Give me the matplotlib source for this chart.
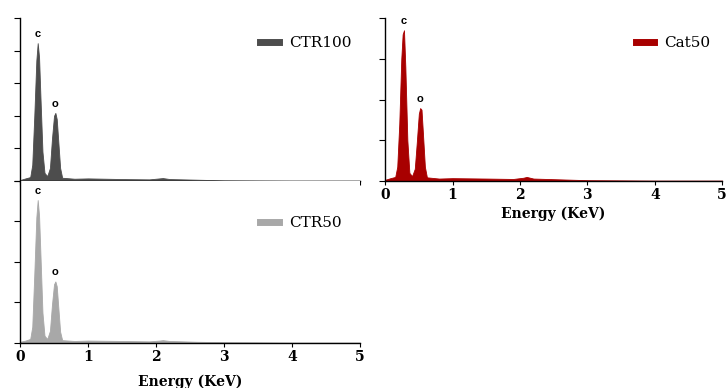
import matplotlib
matplotlib.use('Agg')
import matplotlib.pyplot as plt
from matplotlib.lines import Line2D

# EDS spectra (energy in keV, intensity in arbitrary units)
energy = [0.00, 0.08, 0.15, 0.18, 0.21, 0.24, 0.26, 0.28, 0.30, 0.33, 0.36,
          0.40, 0.44, 0.47, 0.50, 0.52, 0.54, 0.56, 0.59, 0.62, 0.80, 1.00,
          1.50, 1.90, 2.05, 2.10, 2.20, 2.60, 3.00, 4.00, 5.00]

ctr100 = [0.03, 0.08, 0.12, 0.50, 2.00, 3.70, 4.23, 3.80, 2.60, 0.90, 0.25,
          0.15, 0.40, 1.30, 2.00, 2.09, 1.90, 1.30, 0.40, 0.10, 0.07, 0.08,
          0.06, 0.05, 0.08, 0.09, 0.06, 0.04, 0.02, 0.01, 0.01]

ctr50 = [0.03, 0.06, 0.10, 0.40, 1.70, 3.10, 3.53, 3.15, 2.20, 0.75, 0.18,
         0.10, 0.30, 0.95, 1.45, 1.52, 1.40, 0.95, 0.28, 0.07, 0.05, 0.06,
         0.05, 0.04, 0.06, 0.07, 0.05, 0.03, 0.02, 0.01, 0.01]

cat50 = [0.03, 0.07, 0.10, 0.35, 1.40, 3.00, 3.60, 3.70, 2.80, 1.00, 0.20,
         0.12, 0.30, 0.95, 1.65, 1.79, 1.75, 1.20, 0.35, 0.09, 0.06, 0.07,
         0.06, 0.05, 0.08, 0.10, 0.06, 0.04, 0.02, 0.01, 0.01]

xticks = [0, 1, 2, 3, 4, 5]

serif = 'DejaVu Serif'

fig = plt.figure(figsize=(7.28, 3.88), dpi=100)
ax1 = fig.add_axes([0.0275, 0.5335, 0.467, 0.420])
ax2 = fig.add_axes([0.0275, 0.116, 0.467, 0.4175])
ax3 = fig.add_axes([0.529, 0.5335, 0.463, 0.420])

panels = [
    (ax1, ctr100, '#4d4d4d', 'CTR100', 5, (0.976, 0.847)),
    (ax2, ctr50, '#a8a8a8', 'CTR50', 4, (0.947, 0.74)),
    (ax3, cat50, '#a80000', 'Cat50', 4, (0.966, 0.847)),
]

for ax, vals, col, name, ytop, anchor in panels:
    ax.fill_between(energy, vals, 0, color=col, lw=0.6, edgecolor=col)
    ax.set_xlim(0, 5)
    ax.set_ylim(0, ytop)
    ax.set_xticks(xticks)
    ax.set_yticks(range(ytop + 1))
    ax.set_yticklabels([])
    for s in ['top', 'right']:
        ax.spines[s].set_visible(False)
    for s in ['left', 'bottom']:
        ax.spines[s].set_linewidth(1.0)
    ax.tick_params(axis='y', direction='out', length=4, width=0.8)
    ax.tick_params(axis='x', direction='out', length=3, width=0.8, pad=2)
    for lab in ax.get_xticklabels():
        lab.set_fontfamily(serif)
        lab.set_fontweight('bold')
        lab.set_fontsize(10)

    # peak labels above the C and O peaks
    ic = vals.index(max(vals[:10]))
    io = vals.index(max(vals[10:20]))
    ax.annotate('c', (energy[ic], vals[ic]), xytext=(0, 3), textcoords='offset points',
                ha='center', va='bottom', fontsize=8, fontweight='bold', family='Liberation Sans')
    ax.annotate('o', (energy[io], vals[io]), xytext=(0, 3), textcoords='offset points',
                ha='center', va='bottom', fontsize=8, fontweight='bold', family='Liberation Sans')

    handle = Line2D([], [], color=col, lw=5)
    ax.legend([handle], [name], loc='center right', bbox_to_anchor=anchor,
              frameon=False, handlelength=1.2, handletextpad=0.7,
              borderpad=0, borderaxespad=0,
              prop={'family': serif, 'size': 11})

ax1.set_xticklabels([])
ax2.set_xlabel('Energy (KeV)', fontfamily=serif, fontweight='bold', fontsize=10, labelpad=8)
ax3.set_xlabel('Energy (KeV)', fontfamily=serif, fontweight='bold', fontsize=10, labelpad=3)

plt.savefig('out.png', dpi=100)
